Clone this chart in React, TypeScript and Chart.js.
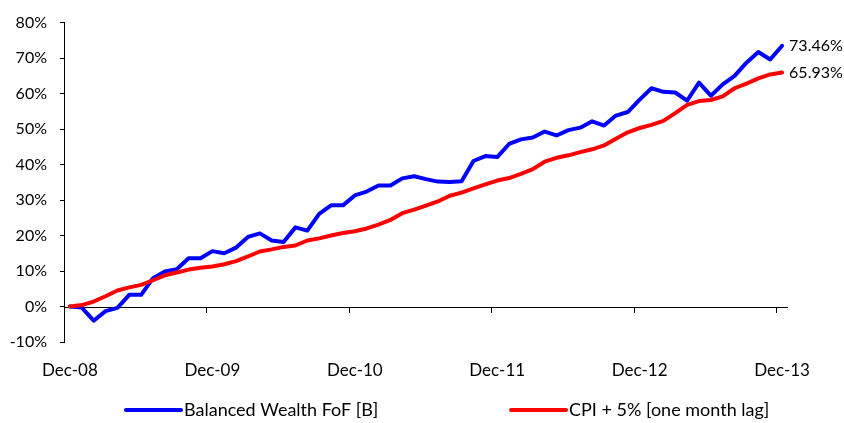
import React, { useEffect, useRef } from "react";
import { Chart, registerables } from "chart.js";

Chart.register(...registerables);

const MONTHS = ["Jan", "Feb", "Mar", "Apr", "May", "Jun", "Jul", "Aug", "Sep", "Oct", "Nov", "Dec"];
const categories: string[] = ["Dec-08"];
for (const yy of ["09", "10", "11", "12", "13"]) {
  for (const m of MONTHS) categories.push(`${m}-${yy}`);
}

const fundLabel = "Balanced Wealth FoF [B]";
const cpiLabel = "CPI + 5% [one month lag]";

const fundValues = [
  0, -0.3, -4.0, -1.3, -0.4, 3.3, 3.3, 8.0, 9.9, 10.5, 13.6, 13.6,
  15.6, 15.0, 16.6, 19.6, 20.6, 18.6, 18.2, 22.3, 21.4, 26.1, 28.5, 28.5,
  31.3, 32.4, 34.1, 34.1, 36.1, 36.7, 35.9, 35.2, 35.1, 35.3, 41.0, 42.4,
  42.1, 45.8, 47.1, 47.6, 49.3, 48.2, 49.7, 50.4, 52.2, 51.0, 53.8, 54.8,
  58.3, 61.5, 60.5, 60.3, 58.0, 63.1, 59.4, 62.6, 65.0, 68.7, 71.7, 69.6,
  73.46,
];

const cpiValues = [
  0, 0.4, 1.4, 2.9, 4.5, 5.4, 6.1, 7.4, 8.8, 9.6, 10.4, 10.9,
  11.3, 11.9, 12.8, 14.1, 15.5, 16.1, 16.8, 17.2, 18.6, 19.2, 20.0, 20.7,
  21.2, 22.0, 23.1, 24.4, 26.3, 27.3, 28.4, 29.6, 31.2, 32.1, 33.3, 34.4,
  35.5, 36.2, 37.4, 38.7, 40.8, 41.9, 42.6, 43.5, 44.3, 45.4, 47.3, 49.1,
  50.3, 51.2, 52.3, 54.5, 56.8, 57.9, 58.2, 59.2, 61.5, 62.8, 64.3, 65.4,
  65.93,
];

const yMin = -10;
const yMax = 80;
const yStep = 10;
const labelEvery = 12;

const FONT = "Lato, 'Open Sans', sans-serif";

const zeroAxisPlugin = {
  id: "zeroAxis",
  beforeDatasetsDraw(chart: any) {
    const { ctx, chartArea, scales } = chart;
    const x = scales.x;
    const y0 = scales.y.getPixelForValue(0);
    ctx.save();
    ctx.strokeStyle = "#000";
    ctx.lineWidth = 1;
    ctx.beginPath();
    ctx.moveTo(chartArea.left, Math.round(y0) + 0.5);
    ctx.lineTo(chartArea.right, Math.round(y0) + 0.5);
    for (let i = labelEvery; i < categories.length; i += labelEvery) {
      const px = Math.round((x.getPixelForValue(i - 1) + x.getPixelForValue(i)) / 2) + 0.5;
      ctx.moveTo(px, Math.round(y0) + 0.5);
      ctx.lineTo(px, Math.round(y0) + 6);
    }
    ctx.stroke();
    ctx.restore();
  },
};

const endLabelPlugin = {
  id: "endLabels",
  afterDatasetsDraw(chart: any) {
    const { ctx } = chart;
    ctx.save();
    ctx.font = `16px ${FONT}`;
    ctx.fillStyle = "#000";
    ctx.textAlign = "left";
    ctx.textBaseline = "middle";
    chart.data.datasets.forEach((ds: any, i: number) => {
      const meta = chart.getDatasetMeta(i);
      const pt = meta.data[meta.data.length - 1];
      const v = ds.data[ds.data.length - 1];
      ctx.fillText(`${v.toFixed(2)}%`, pt.x + 7, pt.y);
    });
    ctx.restore();
  },
};

const legendPlugin = {
  id: "bottomLegend",
  afterDraw(chart: any) {
    const { ctx } = chart;
    const y = 410;
    const starts = [126, 511];
    const lineLen = 55;
    ctx.save();
    ctx.font = `18px ${FONT}`;
    ctx.textAlign = "left";
    ctx.textBaseline = "middle";
    chart.data.datasets.forEach((ds: any, i: number) => {
      const sx = starts[i];
      ctx.strokeStyle = ds.borderColor;
      ctx.lineWidth = 4;
      ctx.lineCap = "round";
      ctx.beginPath();
      ctx.moveTo(sx, y);
      ctx.lineTo(sx + lineLen, y);
      ctx.stroke();
      ctx.fillStyle = "#000";
      ctx.fillText(ds.label, sx + lineLen + 3, y);
    });
    ctx.restore();
  },
};

export default function App() {
  const ref = useRef<HTMLCanvasElement | null>(null);

  useEffect(() => {
    document.body.style.margin = "0";
    if (!ref.current) return;
    const chart = new Chart(ref.current, {
      type: "line",
      data: {
        labels: categories,
        datasets: [
          {
            label: fundLabel,
            data: fundValues,
            borderColor: "#0000FF",
            backgroundColor: "#0000FF",
            borderWidth: 4,
            pointRadius: 0,
            tension: 0,
            borderJoinStyle: "round",
            borderCapStyle: "round",
            order: 1,
          },
          {
            label: cpiLabel,
            data: cpiValues,
            borderColor: "#FF0000",
            backgroundColor: "#FF0000",
            borderWidth: 4,
            pointRadius: 0,
            tension: 0,
            borderJoinStyle: "round",
            borderCapStyle: "round",
            order: 0,
          },
        ],
      },
      options: {
        animation: false,
        responsive: true,
        maintainAspectRatio: false,
        layout: { padding: { top: 20, right: 56, left: 0, bottom: 0 } },
        plugins: {
          legend: { display: false },
          tooltip: { enabled: false },
        },
        scales: {
          x: {
            type: "category",
            offset: true,
            grid: { display: false, drawTicks: false, offset: true },
            border: { display: false },
            ticks: {
              autoSkip: false,
              maxRotation: 0,
              minRotation: 0,
              padding: 18,
              color: "#000",
              font: { family: FONT, size: 17 },
              callback: (_v: any, i: number) => (i % labelEvery === 0 ? categories[i] : ""),
            },
            afterFit: (s: any) => {
              s.height = 81;
            },
          },
          y: {
            min: yMin,
            max: yMax,
            grid: {
              drawOnChartArea: false,
              drawTicks: true,
              tickLength: 4,
              color: "#000",
            },
            border: { display: true, color: "#000", width: 1 },
            ticks: {
              stepSize: yStep,
              padding: 13,
              color: "#000",
              font: { family: FONT, size: 16 },
              callback: (v: any) => `${v}%`,
            },
            afterFit: (s: any) => {
              s.width = 64;
            },
          },
        },
      },
      plugins: [zeroAxisPlugin, endLabelPlugin, legendPlugin],
    });
    return () => chart.destroy();
  }, []);

  return (
    <div style={{ position: "relative", width: 844, height: 423 }}>
      <canvas ref={ref} />
    </div>
  );
}
